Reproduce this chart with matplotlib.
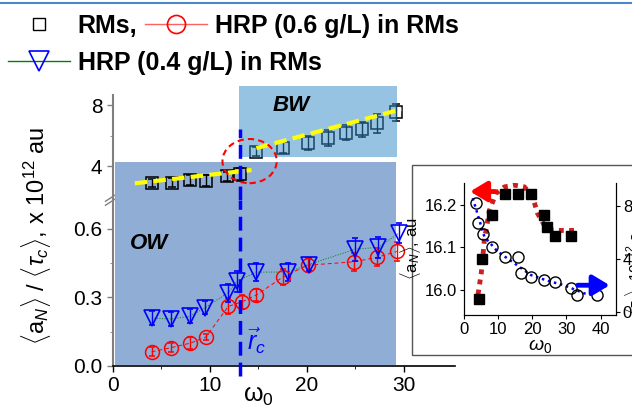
import numpy as np
import matplotlib as mpl
mpl.use('Agg')
import matplotlib.pyplot as plt
from matplotlib.patches import Rectangle, Ellipse
from matplotlib.lines import Line2D

plt.rcParams['font.family'] = ['Liberation Sans', 'DejaVu Sans']
plt.rcParams['mathtext.fontset'] = 'custom'
plt.rcParams['mathtext.rm'] = 'Liberation Sans'
plt.rcParams['mathtext.it'] = 'Liberation Sans:italic'
plt.rcParams['mathtext.bf'] = 'Liberation Sans:bold'

#----- DATA -----
# RMs, upper panel (x 10^12 au)
w_rm = [4.0, 6.05, 8.0, 9.55, 11.8, 13.1, 14.8, 17.6, 20.1, 22.2, 24.1, 25.7, 27.3, 29.2]
a_rm = [2.89, 2.90, 3.08, 3.04, 3.34, 3.45, 4.94, 5.21, 5.54, 5.84, 6.20, 6.43, 6.80, 7.53]
e_rm = [0.25, 0.30, 0.35, 0.35, 0.30, 0.40, 0.30, 0.35, 0.45, 0.50, 0.50, 0.50, 0.60, 0.55]

# linear fits drawn in yellow
fit_ow_x = [2.25, 14.3]
fit_ow_y = [2.87, 3.74]
fit_bw_x = [14.8, 29.8]
fit_bw_y = [5.18, 7.74]

# HRP 0.6 g/L
w_06 = [4.0, 6.0, 8.0, 9.6, 11.9, 13.3, 14.8, 17.6, 20.1, 24.9, 27.3, 29.3]
a_06 = [0.062, 0.080, 0.100, 0.127, 0.260, 0.280, 0.310, 0.390, 0.440, 0.455, 0.475, 0.500]
e_06 = [0.020, 0.020, 0.025, 0.012, 0.035, 0.030, 0.025, 0.035, 0.030, 0.040, 0.040, 0.040]

# HRP 0.4 g/L
w_04 = [4.0, 6.0, 8.0, 9.5, 11.9, 12.8, 14.8, 18.1, 20.2, 25.0, 27.4, 29.5]
a_04 = [0.209, 0.205, 0.218, 0.255, 0.320, 0.370, 0.410, 0.410, 0.443, 0.510, 0.518, 0.580]
e_04 = [0.030, 0.030, 0.030, 0.030, 0.040, 0.045, 0.040, 0.040, 0.030, 0.050, 0.045, 0.045]

w_crit = 13.1

# inset: <a_N> (left axis) and fit
wi_a = [4.3, 5.3, 8.2, 11.9, 15.7, 19.6, 23.5, 24.3, 26.7, 31.3]
ai_a = [15.978, 16.072, 16.176, 16.225, 16.225, 16.225, 16.176, 16.147, 16.127, 16.127]
fi_a_x = [3.7, 5.1, 6.0, 7.5, 9.4, 11.9, 14.8, 17.7, 20.1, 21.6, 23.5, 25.5, 27.4, 32.8]
fi_a_y = [15.965, 16.04, 16.118, 16.188, 16.228, 16.243, 16.247, 16.243, 16.22, 16.18, 16.153, 16.141, 16.14, 16.14]
# inset: right axis and fit
wi_t = [3.4, 4.1, 5.5, 8.2, 11.9, 15.7, 16.7, 19.6, 23.5, 26.7, 31.3, 33.2, 39.1]
ti_t = [8.23, 6.67, 5.86, 4.86, 4.15, 4.15, 2.90, 2.64, 2.39, 2.26, 1.77, 1.26, 1.26]
fi_t_x = [2.6, 6.0, 9.9, 14.8, 19.6, 24.5, 29.3, 35.2, 38.1]
fi_t_y = [8.56, 5.66, 4.53, 3.65, 2.77, 2.34, 2.00, 1.39, 1.26]

#------ Figure ----------
ow_col = '#8fadd5'
bw_col = '#3189c9'
fs_tick = 15

fig = plt.figure(figsize=(6.32, 4.05), dpi=100)

ax_lo = fig.add_axes([0.1788, 0.0963, 0.541, 0.41])
ax_hi = fig.add_axes([0.1788, 0.506, 0.541, 0.259])

for ax in (ax_lo, ax_hi):
    ax.set_xlim(0, 35.3)
    ax.spines['top'].set_visible(False)
    ax.spines['right'].set_visible(False)
    ax.spines['left'].set_color('#808080')
    ax.spines['left'].set_linewidth(1.5)
    ax.patch.set_visible(False)
    ax.tick_params(axis='y', labelsize=fs_tick, direction='out', length=4, width=1, colors='#808080', labelcolor='k')
    ax.tick_params(axis='y', which='minor', length=2.5, colors='#808080')

ax_lo.set_ylim(0, 0.725)
ax_hi.set_ylim(1.77, 8.66)
ax_hi.spines['bottom'].set_visible(False)
ax_hi.set_xticks([])
ax_lo.spines['bottom'].set_linewidth(1.2)
ax_lo.set_xticks([0, 10, 20, 30])
ax_lo.set_xticks([5, 15, 25], minor=True)
ax_lo.tick_params(axis='x', labelsize=fs_tick, direction='out', length=4, width=1)
ax_lo.tick_params(axis='x', which='minor', length=2.5)
ax_lo.set_yticks([0.0, 0.3, 0.6])
ax_lo.set_yticklabels(['0.0', '0.3', '0.6'])
ax_lo.set_yticks([0.15, 0.45], minor=True)
ax_hi.set_yticks([4, 8])
ax_hi.set_yticks([2, 6], minor=True)

# shaded regimes
ax_lo.add_patch(Rectangle((0.2, 0.005), 29.0, 1.0, color=ow_col, lw=0, zorder=0))
ax_hi.add_patch(Rectangle((0.2, 0.0), 29.0, 4.27, color=ow_col, lw=0, zorder=0))
ax_hi.add_patch(Rectangle((13.0, 4.6), 16.3, 4.65, color=bw_col, alpha=0.5, lw=0, zorder=4, clip_on=False))

# RMs
ax_hi.errorbar(w_rm, a_rm, yerr=e_rm, fmt='s', ms=8.4, mfc='none', mec='k', mew=1.1,
               ecolor='k', elinewidth=1, capsize=3, zorder=3)
ax_hi.plot(fit_ow_x, fit_ow_y, color='yellow', lw=3, ls=(0, (3, 1.5)), zorder=5)
ax_hi.plot(fit_bw_x, fit_bw_y, color='yellow', lw=3, ls=(0, (3, 1.5)), zorder=5)

# HRP series
ax_lo.plot(w_06, a_06, color='red', lw=0.7, ls=(0, (4, 3)), zorder=2)
ax_lo.errorbar(w_06, a_06, yerr=e_06, fmt='o', ms=10, mfc='none', mec='red', mew=1.1,
               ecolor='red', elinewidth=1, capsize=2.5, zorder=3)
ax_lo.plot(w_04, a_04, color='green', lw=0.7, ls=':', zorder=2)
ax_lo.errorbar(w_04, a_04, yerr=e_04, fmt='v', ms=12, mfc='none', mec='blue', mew=1.2,
               ecolor='blue', elinewidth=1, capsize=2.5, zorder=3)

# critical line
dash = (0, (4, 2))
ax_lo.axvline(w_crit, ymin=-0.06, ymax=1, color='blue', lw=2.5, ls=dash, clip_on=False, zorder=6)
ax_hi.axvline(w_crit, ymin=0, ymax=(6.43 - 1.77) / (8.66 - 1.77), color='blue', lw=2.5, ls=dash, zorder=6)
ax_hi.add_patch(Ellipse((14.1, 4.33), 5.6, 2.9, fill=False, ec='red', lw=1.5, ls=(0, (3, 2)), zorder=7, clip_on=False))

ax_lo.text(1.75, 0.536, 'OW', weight='bold', style='italic', fontsize=16, va='center')
ax_hi.text(16.5, 8.0, 'BW', weight='bold', style='italic', fontsize=16, va='center', zorder=8)
ax_lo.text(13.8, 0.07, r'$\vec{r}_c$', color='blue', fontsize=18, zorder=8)

# axis break marks
for dy in (-0.012, 0.012):
    ax_lo.plot([-0.022, 0.008], [1 + dy - 0.02, 1 + dy + 0.02], transform=ax_lo.transAxes,
               color='#808080', lw=1, clip_on=False)

ax_lo.set_xlabel(r'$\mathrm{\omega}_0$', fontsize=18)
ax_lo.xaxis.set_label_coords(0.424, -0.11)
fig.text(0.057, 0.417, r'$\langle$a$_N\rangle$ / $\langle\tau_c\rangle$, x 10$^{12}$ au',
         rotation=90, ha='center', va='center', fontsize=17)

# legend
h_rm = Line2D([], [], ls='none', marker='s', mfc='none', mec='k', ms=9)
h_06 = Line2D([], [], color='#ff6060', lw=1, marker='o', mfc='none', mec='red', mew=1.2, ms=13)
h_04 = Line2D([], [], color='green', lw=1, marker='v', mfc='none', mec='blue', mew=1.2, ms=14)
kw = dict(loc='upper left', frameon=False, prop=dict(weight='bold', size=18), handlelength=2.5,
          handletextpad=0.3, columnspacing=0.3, borderpad=0, borderaxespad=0)
fig.legend([h_rm, h_06], ['RMs,', 'HRP (0.6 g/L) in RMs'], ncol=2, bbox_to_anchor=(0.012, 0.965), **kw)
fig.legend([h_04], ['HRP (0.4 g/L) in RMs'], bbox_to_anchor=(0.012, 0.875), **kw)

# top rule
fig.add_artist(Line2D([0, 1], [0.992, 0.992], transform=fig.transFigure, color='#4a86c8', lw=1.5))

# inset frame
fig.add_artist(Rectangle((412 / 632, 0.123), 0.4, 0.469, transform=fig.transFigure,
                         fc='white', ec='#555555', lw=1, zorder=2))

axi = fig.add_axes([0.734, 0.222, 0.2405, 0.326])
axi.set_zorder(3)
axi.patch.set_visible(False)
axr = axi.twinx()
axr.set_zorder(4)

axi.plot(fi_a_x, fi_a_y, color='#cc2020', lw=3.5, ls=(0, (1, 1.1)))
axi.plot(wi_a, ai_a, 's', color='k', ms=7)
axr.plot(fi_t_x, fi_t_y, color='blue', lw=1.8, ls=(0, (1, 1.5)))
axr.plot(wi_t, ti_t, 'o', mfc='none', mec='k', ms=8, mew=1)
axi.annotate('', xy=(1.0, 16.232), xytext=(10.0, 16.232),
             arrowprops=dict(arrowstyle='-|>,head_length=1.0,head_width=0.6', color='red', lw=3.5))
axr.annotate('', xy=(43.5, 2.0), xytext=(32.5, 2.0),
             arrowprops=dict(arrowstyle='-|>,head_length=1.0,head_width=0.6', color='blue', lw=3.5))

axi.set_xlim(0, 44.5)
axi.set_ylim(15.94, 16.252)
axr.set_ylim(-0.25, 9.7)
axi.set_xticks([0, 10, 20, 30, 40])
axi.set_yticks([16.0, 16.1, 16.2])
axr.set_yticks([0, 4, 8])
for a in (axi, axr):
    a.spines['top'].set_visible(False)
    a.tick_params(labelsize=12, direction='out', length=3, pad=2)
axi.set_ylabel(r'$\langle$a$_N\rangle$, au', fontsize=12, labelpad=1)
axi.set_xlabel(r'$\omega_0$', fontsize=14, labelpad=0)
fig.text(0.986, 0.222, r'$\langle\tau_c\rangle$, 10$^{-12}$ s', rotation=90, ha='left', va='bottom', fontsize=11)

fig.savefig('out.png', dpi=100)
plt.close(fig)
